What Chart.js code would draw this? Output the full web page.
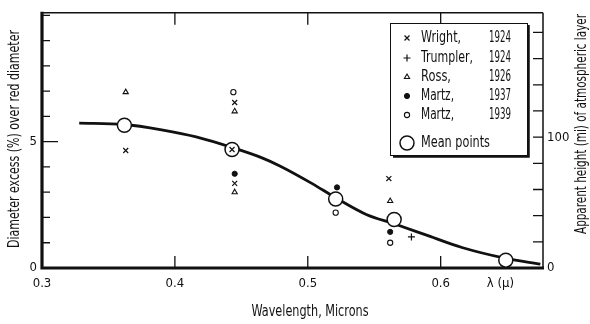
<!DOCTYPE html>
<html>
<head>
<meta charset="utf-8">
<script src="https://cdn.jsdelivr.net/npm/chart.js@4"></script>
<style>
  html, body { margin: 0; padding: 0; background: #fff; }
  canvas { display: block; }
</style>
</head>
<body>
<canvas id="chartLimb" width="590" height="324"></canvas>
<script>
// dados
const wrightX = [0.363, 0.445, 0.443, 0.445, 0.561];
const wrightY = [4.65, 6.55, 4.69, 3.35, 3.54];
const trumplerX = [0.578];
const trumplerY = [1.23];
const rossX = [0.363, 0.445, 0.445, 0.562];
const rossY = [6.96, 6.2, 3.0, 2.65];
const martz37X = [0.445, 0.522, 0.562];
const martz37Y = [3.73, 3.19, 1.43];
const martz39X = [0.444, 0.521, 0.562];
const martz39Y = [6.96, 2.19, 1.0];
const meanX = [0.362, 0.443, 0.521, 0.565, 0.649];
const meanY = [5.65, 4.69, 2.73, 1.92, 0.31];
const curveX = [0.328, 0.362, 0.391, 0.416, 0.443, 0.466, 0.479, 0.503, 0.521, 0.544, 0.565, 0.591, 0.616, 0.649, 0.675];
const curveY = [5.73, 5.68, 5.46, 5.19, 4.77, 4.35, 4.04, 3.35, 2.78, 2.12, 1.75, 1.27, 0.81, 0.38, 0.15];

const xTickValues = [0.3, 0.4, 0.5, 0.6, 0.645];
const xTickLabels = ['0.3', '0.4', '0.5', '0.6', 'λ (μ)'];
const leftTickValues = [0, 1, 2, 3, 4, 5, 6, 7, 8, 9, 10];
const leftTickLabels = ['0', '', '', '', '', '5', '', '', '', '', ''];
const rightTickValues = [0, 20, 40, 60, 80, 100, 120, 140, 160, 180];
const rightTickLabels = ['0', '', '', '', '', '100', '', '', '', ''];

const legendNames = ['Wright,', 'Trumpler,', 'Ross,', 'Martz,', 'Martz,'];
const legendYears = ['1924', '1924', '1926', '1937', '1939'];

const FONT = "'Liberation Sans Narrow', 'DejaVu Sans Condensed', 'Arial Narrow', sans-serif";
const INK = '#111';

function pts(xs, ys) {
    return xs.map((x, i) => ({ x: x, y: ys[i] }));
}

const markerStyles = [
    { pointStyle: 'crossRot', radius: 3.5, fill: INK, width: 1.2 },
    { pointStyle: 'cross', radius: 3.5, fill: INK, width: 1.2 },
    { pointStyle: 'triangle', radius: 3, fill: '#fff', width: 1.1 },
    { pointStyle: 'circle', radius: 2.6, fill: INK, width: 1 },
    { pointStyle: 'circle', radius: 2.6, fill: '#fff', width: 1.1 }
];

function scatterSet(label, xs, ys, st) {
    return {
        label: label,
        data: pts(xs, ys),
        pointStyle: st.pointStyle,
        pointRadius: st.radius,
        pointBackgroundColor: st.fill,
        pointBorderColor: INK,
        pointBorderWidth: st.width,
        showLine: false,
        order: 0
    };
}

// texto estreito, ajustado a uma largura
function narrowText(ctx, text, x, y, width, rot) {
    ctx.save();
    ctx.translate(x, y);
    if (rot) ctx.rotate(rot);
    const w = ctx.measureText(text).width;
    ctx.scale(width / w, 1);
    ctx.fillText(text, 0, 0);
    ctx.restore();
}

// eixos, marcas e legenda desenhados à mão
const framePlugin = {
    id: 'frame',
    beforeDatasetsDraw(chart) {
        const ctx = chart.ctx;
        const a = chart.chartArea;
        const sx = chart.scales.x, sy = chart.scales.y, sy2 = chart.scales.y2;
        ctx.save();
        ctx.strokeStyle = INK;
        ctx.lineCap = 'butt';
        // topo e direita, finos
        ctx.lineWidth = 1.5;
        ctx.beginPath();
        ctx.moveTo(a.left, a.top); ctx.lineTo(a.right, a.top);
        ctx.moveTo(a.right, a.top); ctx.lineTo(a.right, a.bottom);
        ctx.stroke();
        // esquerda e base, grossos
        ctx.lineWidth = 3.2;
        ctx.beginPath();
        ctx.moveTo(a.left, a.top - 1); ctx.lineTo(a.left, a.bottom + 1.5);
        ctx.moveTo(a.left - 1.5, a.bottom); ctx.lineTo(a.right + 1, a.bottom);
        ctx.stroke();
        // marcas
        ctx.lineWidth = 1.3;
        ctx.beginPath();
        leftTickValues.forEach(v => {
            if (v === 0) return;
            const y = sy.getPixelForValue(v);
            ctx.moveTo(a.left, y); ctx.lineTo(a.left + (v === 5 ? 16 : 8), y);
        });
        rightTickValues.forEach(v => {
            if (v === 0) return;
            const y = sy2.getPixelForValue(v);
            ctx.moveTo(a.right, y); ctx.lineTo(a.right - 10, y);
        });
        [0.4, 0.5, 0.6].forEach(v => {
            const x = sx.getPixelForValue(v);
            ctx.moveTo(x, a.bottom); ctx.lineTo(x, a.bottom - 12);
            ctx.moveTo(x, a.top); ctx.lineTo(x, a.top + 12);
        });
        ctx.stroke();
        ctx.restore();
    },
    afterDraw(chart) {
        const ctx = chart.ctx;
        ctx.save();
        ctx.fillStyle = INK;
        ctx.font = '15px ' + FONT;
        ctx.textBaseline = 'middle';

        // títulos dos eixos
        ctx.textAlign = 'center';
        narrowText(ctx, 'Wavelength, Microns', 310, 312, 117, 0);
        narrowText(ctx, 'Diameter excess (%) over red diameter', 15, 139, 218, -Math.PI / 2);
        narrowText(ctx, 'Apparent height (mi) of atmospheric layer', 582, 124, 220, -Math.PI / 2);

        // legenda
        const bx = 390, by = 23, bw = 137, bh = 132;
        ctx.fillStyle = '#fff';
        ctx.fillRect(bx, by, bw, bh);
        ctx.strokeStyle = INK;
        ctx.lineWidth = 1;
        ctx.strokeRect(bx + 0.5, by + 0.5, bw, bh);
        ctx.lineWidth = 2.5;
        ctx.beginPath();
        ctx.moveTo(bx + bw + 1.5, by + 2); ctx.lineTo(bx + bw + 1.5, by + bh + 1.5);
        ctx.lineTo(bx + 3, by + bh + 1.5);
        ctx.stroke();

        const rowY = [38, 58, 77, 96, 115];
        const nameW = [40, 52, 30, 33, 33];
        legendNames.forEach((name, i) => {
            const st = markerStyles[i];
            ctx.fillStyle = st.fill;
            ctx.strokeStyle = INK;
            ctx.lineWidth = st.width;
            Chart.helpers.drawPoint(ctx, { pointStyle: st.pointStyle, radius: st.radius, rotation: 0, borderWidth: st.width }, 407, rowY[i]);
            ctx.fillStyle = INK;
            ctx.textAlign = 'left';
            narrowText(ctx, name, 421, rowY[i], nameW[i], 0);
            ctx.textAlign = 'right';
            narrowText(ctx, legendYears[i], 511, rowY[i], 22, 0);
        });
        ctx.fillStyle = '#fff';
        ctx.lineWidth = 1.5;
        ctx.beginPath();
        ctx.arc(407, 143, 7, 0, Math.PI * 2);
        ctx.fill();
        ctx.stroke();
        ctx.fillStyle = INK;
        ctx.textAlign = 'left';
        narrowText(ctx, 'Mean points', 421, 143, 69, 0);
        ctx.restore();
    }
};

function initLimbChart() {
    const ctx = document.getElementById('chartLimb').getContext('2d');
    new Chart(ctx, {
        type: 'scatter',
        data: {
            datasets: [
                scatterSet('Wright, 1924', wrightX, wrightY, markerStyles[0]),
                scatterSet('Trumpler, 1924', trumplerX, trumplerY, markerStyles[1]),
                scatterSet('Ross, 1926', rossX, rossY, markerStyles[2]),
                scatterSet('Martz, 1937', martz37X, martz37Y, markerStyles[3]),
                scatterSet('Martz, 1939', martz39X, martz39Y, markerStyles[4]),
                {
                    label: 'Mean points',
                    data: pts(meanX, meanY),
                    pointStyle: 'circle',
                    pointRadius: 7,
                    pointBackgroundColor: '#fff',
                    pointBorderColor: INK,
                    pointBorderWidth: 1.5,
                    showLine: false,
                    order: 1
                },
                {
                    label: 'curve',
                    data: pts(curveX, curveY),
                    showLine: true,
                    borderColor: INK,
                    borderWidth: 2.8,
                    pointRadius: 0,
                    cubicInterpolationMode: 'monotone',
                    fill: false,
                    order: 2
                }
            ]
        },
        options: {
            responsive: false,
            animation: false,
            devicePixelRatio: 1,
            layout: { padding: { top: 5, left: 0, right: 0, bottom: 0 } },
            plugins: { legend: { display: false }, tooltip: { enabled: false } },
            scales: {
                x: {
                    type: 'linear', position: 'bottom', min: 0.3, max: 0.677,
                    grid: { display: false, drawTicks: false },
                    border: { display: false },
                    afterBuildTicks: s => { s.ticks = xTickValues.map(v => ({ value: v })); },
                    afterFit: s => { s.height = 56; },
                    ticks: {
                        autoSkip: false, maxRotation: 0, padding: 8, color: INK,
                        font: { family: FONT, size: 13 },
                        callback: (v, i) => xTickLabels[i]
                    }
                },
                y: {
                    type: 'linear', position: 'left', min: 0, max: 10.1,
                    grid: { display: false, drawTicks: false },
                    border: { display: false },
                    afterBuildTicks: s => { s.ticks = leftTickValues.map(v => ({ value: v })); },
                    afterFit: s => { s.width = 42; },
                    ticks: {
                        autoSkip: false, padding: 5, color: INK,
                        font: { family: FONT, size: 13 },
                        callback: (v, i) => leftTickLabels[i]
                    }
                },
                y2: {
                    type: 'linear', position: 'right', min: 0, max: 195,
                    grid: { display: false, drawTicks: false },
                    border: { display: false },
                    afterBuildTicks: s => { s.ticks = rightTickValues.map(v => ({ value: v })); },
                    afterFit: s => { s.width = 47; },
                    ticks: {
                        autoSkip: false, padding: 4, color: INK,
                        font: { family: FONT, size: 13 },
                        callback: (v, i) => rightTickLabels[i]
                    }
                }
            }
        },
        plugins: [framePlugin]
    });
}

window.addEventListener('DOMContentLoaded', () => {
    initLimbChart();
});
</script>
</body>
</html>
